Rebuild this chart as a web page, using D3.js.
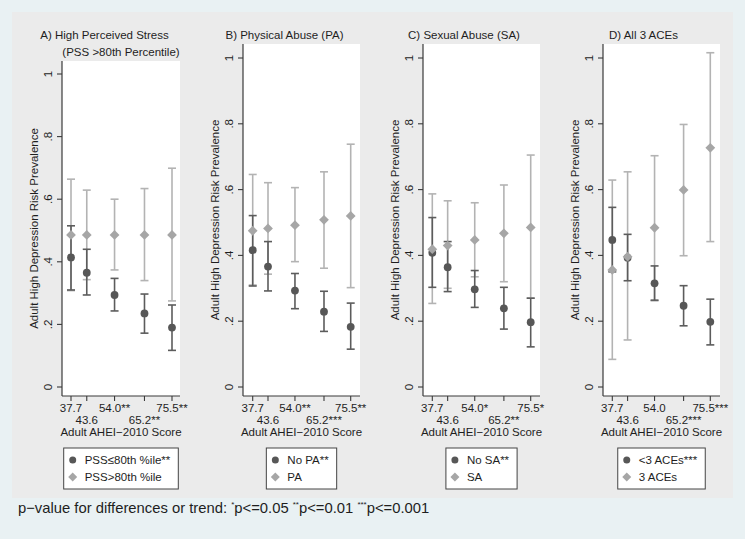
<!DOCTYPE html>
<html><head><meta charset="utf-8">
<script src="https://cdn.jsdelivr.net/npm/d3@7"></script>
<style>
body{margin:0;background:#fff}
svg{display:block}
text{font-family:"Liberation Sans",Arial,sans-serif;fill:#1e1e1e}
</style>
</head><body>
<svg id="c" width="750" height="544"></svg>
<script>
// ---------- data ----------
const scores = [37.7, 43.6, 54.0, 65.2, 75.5];
const yTicks = [0, 0.2, 0.4, 0.6, 0.8, 1];
const yTickLabels = ["0", ".2", ".4", ".6", ".8", "1"];
const yTitle = "Adult High Depression Risk Prevalence";
const xTitle = "Adult AHEI\u22122010 Score";

const titlesA = ["A) High Perceived Stress", "(PSS >80th Percentile)"];
const titlesB = ["B) Physical Abuse (PA)"];
const titlesC = ["C) Sexual Abuse (SA)"];
const titlesD = ["D) All 3 ACEs"];

const xLabelsA = ["37.7", "43.6", "54.0**", "65.2**", "75.5**"];
const xLabelsB = ["37.7", "43.6", "54.0**", "65.2***", "75.5**"];
const xLabelsC = ["37.7", "43.6", "54.0*", "65.2**", "75.5*"];
const xLabelsD = ["37.7", "43.6", "54.0", "65.2***", "75.5***"];

const legendA = ["PSS\u226480th %ile**", "PSS>80th %ile"];
const legendB = ["No PA**", "PA"];
const legendC = ["No SA**", "SA"];
const legendD = ["<3 ACEs***", "3 ACEs"];

// Panel A: perceived stress
const pssLowEst  = [0.414, 0.365, 0.294, 0.235, 0.190];
const pssLowLo   = [0.310, 0.294, 0.243, 0.172, 0.117];
const pssLowHi   = [0.515, 0.440, 0.347, 0.297, 0.262];
const pssHighEst = [0.486, 0.486, 0.486, 0.486, 0.486];
const pssHighLo  = [0.308, 0.343, 0.374, 0.340, 0.275];
const pssHighHi  = [0.664, 0.629, 0.600, 0.634, 0.699];
// Panel B: physical abuse
const noPaEst = [0.416, 0.366, 0.293, 0.229, 0.183];
const noPaLo  = [0.307, 0.292, 0.238, 0.169, 0.115];
const noPaHi  = [0.521, 0.442, 0.345, 0.291, 0.255];
const paEst   = [0.475, 0.482, 0.492, 0.508, 0.520];
const paLo    = [0.310, 0.343, 0.381, 0.361, 0.302];
const paHi    = [0.646, 0.621, 0.606, 0.654, 0.738];
// Panel C: sexual abuse
const noSaEst = [0.408, 0.364, 0.297, 0.239, 0.197];
const noSaLo  = [0.303, 0.290, 0.242, 0.176, 0.122];
const noSaHi  = [0.515, 0.442, 0.354, 0.303, 0.270];
const saEst   = [0.419, 0.430, 0.447, 0.467, 0.485];
const saLo    = [0.254, 0.300, 0.335, 0.320, 0.270];
const saHi    = [0.587, 0.566, 0.560, 0.614, 0.705];
// Panel D: all 3 ACEs
const lt3Est  = [0.447, 0.393, 0.315, 0.247, 0.198];
const lt3Lo   = [0.350, 0.323, 0.264, 0.186, 0.128];
const lt3Hi   = [0.546, 0.464, 0.368, 0.308, 0.267];
const all3Est = [0.356, 0.396, 0.484, 0.599, 0.727];
const all3Lo  = [0.084, 0.143, 0.262, 0.399, 0.442];
const all3Hi  = [0.629, 0.654, 0.703, 0.798, 1.016];

// ---------- layout ----------
const panels = [
  {titles: titlesA, xl: xLabelsA, leg: legendA,
   dark: [pssLowEst, pssLowLo, pssLowHi], light: [pssHighEst, pssHighLo, pssHighHi],
   L: 62, R: 180, T: 61, x0: 71, x1: 172, yTop: 74, tx: [104.5, 121], ty: [38.5, 55.5]},
  {titles: titlesB, xl: xLabelsB, leg: legendB,
   dark: [noPaEst, noPaLo, noPaHi], light: [paEst, paLo, paHi],
   L: 243, R: 360, T: 44, x0: 252.7, x1: 350.7, yTop: 58, tx: [284.5], ty: [39]},
  {titles: titlesC, xl: xLabelsC, leg: legendC,
   dark: [noSaEst, noSaLo, noSaHi], light: [saEst, saLo, saHi],
   L: 423, R: 540, T: 44, x0: 432.3, x1: 530.7, yTop: 58, tx: [464], ty: [39]},
  {titles: titlesD, xl: xLabelsD, leg: legendD,
   dark: [lt3Est, lt3Lo, lt3Hi], light: [all3Est, all3Lo, all3Hi],
   L: 603, R: 720, T: 44, x0: 612.3, x1: 710.3, yTop: 58, tx: [643.5], ty: [39]}
];
const B = 396, Y0 = 387;
const FS = 11.5;
const darkCol = "#575757", lightCol = "#a6a6a6";
const darkCI = "#5c5c5c", lightCI = "#b3b3b3";
const axisCol = "#3a3a3a";

const svg = d3.select("#c");
svg.append("rect").attr("x", 0).attr("y", 0).attr("width", 745).attr("height", 539).attr("fill", "#e9f1f3");
svg.append("rect").attr("x", 12).attr("y", 12).attr("width", 721).attr("height", 486).attr("fill", "#ebebeb");

const diamond = (s) => `M0,${-s}L${s},0L0,${s}L${-s},0Z`;

panels.forEach(p => {
  const g = svg.append("g");
  const x = d3.scaleLinear().domain([scores[0], scores[4]]).range([p.x0, p.x1]);
  const y = d3.scaleLinear().domain([0, 1]).range([Y0, p.yTop]);

  g.append("rect").attr("x", p.L).attr("y", p.T).attr("width", p.R - p.L).attr("height", B - p.T).attr("fill", "#fff");

  // titles
  p.titles.forEach((t, i) => {
    g.append("text").attr("x", p.tx[i]).attr("y", p.ty[i]).attr("text-anchor", "middle")
      .attr("font-size", FS).text(t);
  });

  // y axis
  g.append("line").attr("x1", p.L).attr("x2", p.L).attr("y1", p.T).attr("y2", B)
    .attr("stroke", axisCol).attr("stroke-width", 1.2);
  yTicks.forEach((v, i) => {
    g.append("line").attr("x1", p.L - 5).attr("x2", p.L).attr("y1", y(v)).attr("y2", y(v))
      .attr("stroke", axisCol).attr("stroke-width", 1.1);
    g.append("text").attr("transform", `translate(${p.L - 10},${y(v)}) rotate(-90)`)
      .attr("text-anchor", "middle").attr("font-size", FS).text(yTickLabels[i]);
  });
  g.append("text").attr("transform", `translate(${p.L - 24},${(p.T + B) / 2}) rotate(-90)`)
    .attr("text-anchor", "middle").attr("font-size", FS).text(yTitle);

  // x axis
  g.append("line").attr("x1", p.L).attr("x2", p.R).attr("y1", B).attr("y2", B)
    .attr("stroke", axisCol).attr("stroke-width", 1.2);
  scores.forEach((s, i) => {
    g.append("line").attr("x1", x(s)).attr("x2", x(s)).attr("y1", B).attr("y2", B + 5)
      .attr("stroke", axisCol).attr("stroke-width", 1.1);
    g.append("text").attr("x", x(s)).attr("y", i % 2 === 0 ? B + 16 : B + 27.5)
      .attr("text-anchor", "middle").attr("font-size", FS).text(p.xl[i]);
  });
  g.append("text").attr("x", (p.L + p.R) / 2).attr("y", B + 40).attr("text-anchor", "middle")
    .attr("font-size", FS).text(xTitle);

  // CIs
  const drawCI = (ser, col) => {
    scores.forEach((s, i) => {
      const cx = x(s), lo = y(ser[1][i]), hi = y(ser[2][i]);
      g.append("line").attr("x1", cx).attr("x2", cx).attr("y1", lo).attr("y2", hi)
        .attr("stroke", col).attr("stroke-width", 1.6);
      [lo, hi].forEach(yy => g.append("line").attr("x1", cx - 4).attr("x2", cx + 4)
        .attr("y1", yy).attr("y2", yy).attr("stroke", col).attr("stroke-width", 1.6));
    });
  };
  drawCI(p.light, lightCI);
  drawCI(p.dark, darkCI);
  scores.forEach((s, i) => {
    g.append("circle").attr("cx", x(s)).attr("cy", y(p.dark[0][i])).attr("r", 3.9).attr("fill", darkCol);
  });
  scores.forEach((s, i) => {
    g.append("path").attr("d", diamond(4.9))
      .attr("transform", `translate(${x(s)},${y(p.light[0][i])})`).attr("fill", lightCol);
  });

  // legend
  const lg = g.append("g");
  const t1 = lg.append("text").attr("font-size", FS).text(p.leg[0]);
  const t2 = lg.append("text").attr("font-size", FS).text(p.leg[1]);
  const tw = Math.max(t1.node().getComputedTextLength(), t2.node().getComputedTextLength());
  const bw = 21 + tw + 8;
  const bx = (p.L + p.R) / 2 - bw / 2;
  lg.insert("rect", ":first-child").attr("x", bx).attr("y", 448).attr("width", bw).attr("height", 41)
    .attr("fill", "#fff").attr("stroke", "#444").attr("stroke-width", 1);
  t1.attr("x", bx + 21).attr("y", 464);
  t2.attr("x", bx + 21).attr("y", 481);
  lg.append("circle").attr("cx", bx + 9).attr("cy", 460).attr("r", 3.5).attr("fill", darkCol);
  lg.append("path").attr("d", diamond(4.5)).attr("transform", `translate(${bx + 9},477)`).attr("fill", lightCol);
});

// footer
const foot = svg.append("text").attr("x", 18).attr("y", 513).attr("font-size", 14.8);
const parts = [["p\u2212value for differences or trend: ", false], ["*", true], ["p<=0.05 ", false],
  ["**", true], ["p<=0.01 ", false], ["***", true], ["p<=0.001", false]];
parts.forEach(([t, sup]) => {
  const ts = foot.append("tspan").text(t);
  if (sup) ts.attr("font-size", 8).attr("dy", -6);
  else ts.attr("dy", 0);
});
// reset baseline after superscripts
foot.selectAll("tspan").each(function(d, i) {
  const el = d3.select(this);
  if (parts[i][1]) el.attr("dy", -6);
  else if (i > 0 && parts[i - 1][1]) el.attr("dy", 6);
});
</script>
</body></html>
